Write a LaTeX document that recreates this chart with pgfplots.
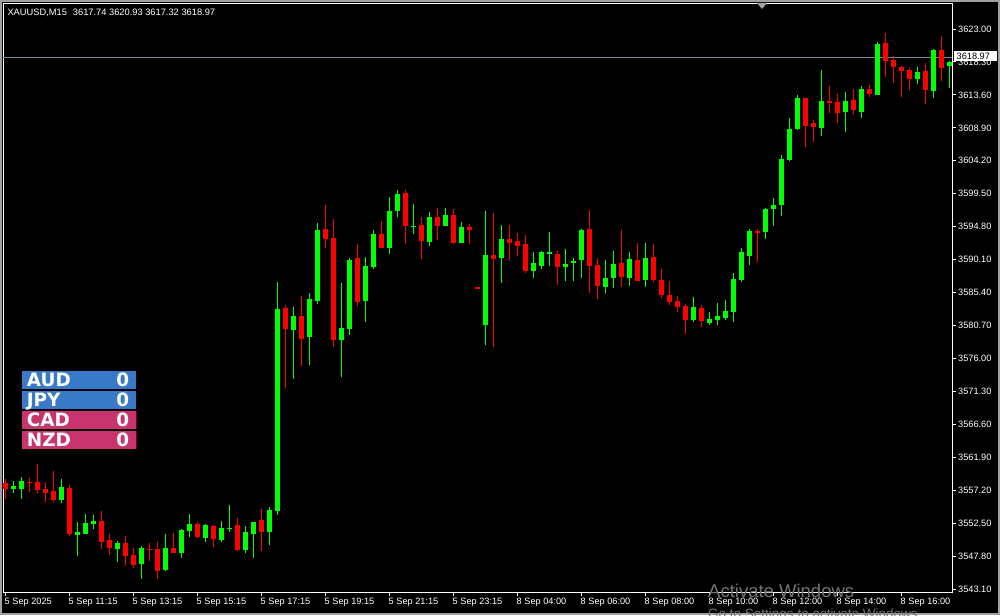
\documentclass[border=0pt]{standalone}
\usepackage{fontspec}
\setmainfont{Liberation Sans}
\newfontfamily\djv{DejaVu Sans}
\usepackage{pgfplots}
\usepackage{pgfplotstable}
\pgfplotsset{compat=1.18}
\definecolor{bull}{RGB}{0,255,0}
\definecolor{bear}{RGB}{255,0,0}
\definecolor{bidline}{RGB}{119,136,153}
\definecolor{panelblue}{RGB}{56,121,200}
\definecolor{panelpink}{RGB}{200,52,110}
\definecolor{paneldark}{RGB}{120,0,20}
\definecolor{framegray}{RGB}{160,160,160}
\definecolor{wmark}{RGB}{115,115,115}

\pgfplotstableread{
i O H L C
1 3557.42 3558.52 3556.85 3557.81
2 3557.42 3559.14 3556.00 3558.52
7 3555.81 3558.81 3555.34 3557.67
9 3550.86 3552.67 3547.87 3551.25
10 3551.01 3553.82 3551.01 3552.53
11 3552.43 3553.67 3551.72 3552.82
14 3548.82 3550.01 3547.01 3549.68
17 3546.73 3549.21 3544.59 3549.01
20 3545.87 3550.96 3545.73 3548.97
22 3548.25 3551.68 3547.58 3551.53
23 3551.39 3553.82 3550.54 3552.39
25 3550.39 3552.39 3549.86 3552.25
27 3550.11 3552.82 3549.86 3551.82
28 3551.68 3555.10 3551.29 3551.82
30 3548.68 3552.11 3548.30 3551.25
31 3550.96 3552.67 3547.58 3552.67
33 3551.25 3554.81 3549.44 3554.39
34 3554.29 3586.91 3553.67 3583.06
36 3580.06 3583.35 3573.07 3582.06
38 3579.07 3585.34 3575.07 3584.49
39 3584.20 3595.33 3583.77 3594.33
42 3578.64 3586.77 3573.36 3580.35
43 3580.21 3590.34 3579.35 3590.05
45 3584.20 3590.48 3581.21 3589.19
46 3589.05 3594.33 3588.77 3593.76
48 3591.76 3599.04 3590.91 3597.04
49 3597.04 3600.04 3596.18 3599.47
51 3594.76 3598.04 3593.76 3594.90
53 3592.62 3596.90 3592.05 3596.18
55 3594.90 3597.47 3594.90 3596.47
57 3592.48 3595.47 3592.48 3594.76
60 3580.78 3597.04 3577.93 3590.76
62 3590.34 3595.04 3586.77 3593.05
66 3588.48 3591.19 3587.48 3589.62
67 3589.19 3591.33 3588.77 3591.19
68 3590.91 3594.04 3589.19 3591.19
70 3589.05 3591.62 3587.05 3589.48
71 3589.62 3590.34 3587.05 3589.91
72 3590.05 3594.47 3587.48 3594.33
75 3586.20 3590.05 3585.34 3587.48
76 3587.48 3591.33 3586.06 3589.48
78 3587.48 3591.19 3586.34 3590.19
80 3587.20 3592.48 3586.20 3590.34
86 3581.49 3584.77 3581.21 3583.35
88 3581.06 3582.63 3580.78 3581.63
89 3581.49 3583.92 3580.78 3582.06
90 3581.78 3584.34 3581.49 3582.77
91 3582.63 3588.20 3581.21 3587.34
92 3587.20 3591.76 3586.91 3591.19
93 3590.62 3594.47 3589.34 3594.19
95 3594.04 3597.47 3593.05 3597.33
96 3597.33 3598.89 3594.90 3597.90
97 3597.90 3605.03 3596.33 3604.46
98 3604.32 3610.31 3604.17 3608.74
99 3608.74 3613.59 3608.60 3613.16
102 3608.88 3617.15 3607.74 3612.73
105 3611.16 3614.02 3608.31 3612.73
107 3611.16 3614.87 3610.31 3614.44
109 3613.59 3621.15 3613.59 3620.86
114 3615.87 3617.58 3615.16 3616.87
116 3614.16 3620.15 3613.16 3620.01
118 3617.72 3618.44 3614.59 3618.30
}\bulldata

\pgfplotstableread{
i O H L C
0 3558.28 3558.77 3556.00 3557.42
3 3558.38 3558.99 3557.00 3558.20
4 3558.38 3560.95 3556.77 3557.28
5 3557.38 3558.38 3555.57 3556.85
6 3557.10 3559.95 3555.53 3555.81
8 3557.53 3557.95 3550.72 3551.01
12 3552.82 3554.24 3548.82 3549.86
13 3550.11 3550.96 3548.01 3549.01
15 3549.68 3550.68 3546.44 3547.87
16 3547.97 3549.01 3546.16 3546.54
18 3548.87 3549.68 3547.15 3548.72
19 3548.87 3549.86 3544.59 3545.73
21 3549.01 3551.11 3548.25 3548.25
24 3552.39 3552.67 3550.39 3550.54
26 3552.11 3552.25 3549.15 3550.25
29 3552.25 3553.25 3548.54 3548.68
32 3552.96 3554.53 3548.58 3551.25
35 3583.20 3583.63 3571.79 3580.21
37 3582.06 3584.91 3574.93 3578.78
40 3594.47 3597.90 3591.76 3593.05
41 3593.19 3595.90 3577.64 3578.64
44 3590.34 3592.33 3583.49 3584.06
47 3593.76 3595.61 3591.76 3591.76
50 3599.61 3600.04 3592.33 3594.90
52 3595.04 3596.18 3590.19 3592.76
54 3596.18 3597.47 3592.90 3594.90
56 3596.47 3597.33 3592.33 3592.48
58 3594.76 3595.19 3592.33 3594.33
59 3586.13 3586.13 3585.98 3585.98
61 3590.76 3596.75 3577.64 3590.19
63 3593.05 3595.04 3589.91 3592.48
64 3592.76 3593.90 3590.62 3592.05
65 3592.33 3593.62 3588.20 3588.48
69 3590.91 3591.33 3586.48 3589.05
73 3594.47 3597.18 3585.34 3589.19
74 3589.34 3590.34 3584.49 3586.34
77 3589.62 3594.33 3586.20 3587.63
79 3590.05 3592.48 3587.05 3587.05
81 3590.48 3592.33 3586.91 3587.20
82 3587.20 3588.77 3584.63 3585.06
83 3585.06 3587.05 3583.63 3584.06
84 3584.20 3584.91 3582.63 3583.35
85 3583.49 3583.77 3579.49 3581.49
87 3583.20 3583.63 3580.49 3581.35
94 3594.19 3594.47 3589.76 3593.90
100 3613.16 3613.16 3606.17 3609.17
101 3609.59 3610.02 3606.88 3609.02
103 3612.73 3614.87 3611.02 3612.45
104 3612.59 3613.73 3609.59 3611.02
106 3612.87 3614.44 3610.88 3611.45
108 3614.44 3615.01 3613.30 3613.73
110 3621.01 3622.43 3616.16 3618.44
111 3618.58 3619.15 3615.30 3617.58
112 3617.58 3617.72 3613.30 3617.01
113 3617.15 3617.44 3614.30 3615.87
115 3617.01 3618.15 3612.30 3614.30
117 3620.01 3622.00 3615.58 3617.44
}\beardata

\begin{document}
\begin{tikzpicture}[x=1pt,y=1pt]
\useasboundingbox (0,0) rectangle (1000,615);
\fill[black] (0,0) rectangle (1000,615);
\begin{axis}[
  at={(3pt,23pt)}, anchor=south west,
  scale only axis, width=949pt, height=588pt,
  xmin=-0.3125, xmax=118.3125, ymin=3542.69, ymax=3626.57,
  axis line style={white, line width=1pt},
  tick style={white, line width=1pt},
  tick align=outside, major tick length=4pt,
  xtick pos=left, ytick pos=right, yticklabel pos=right,
  xtick={0,8,16,24,32,40,48,56,64,72,80,88,96,104,112},
  xticklabels={5 Sep 2025,5 Sep 11:15,5 Sep 13:15,5 Sep 15:15,5 Sep 17:15,5 Sep 19:15,5 Sep 21:15,5 Sep 23:15,8 Sep 04:00,8 Sep 06:00,8 Sep 08:00,8 Sep 10:00,8 Sep 12:00,8 Sep 14:00,8 Sep 16:00},
  ytick={3543.10,3547.80,3552.50,3557.20,3561.90,3566.60,3571.30,3576.00,3580.70,3585.40,3590.10,3594.80,3599.50,3604.20,3608.90,3613.60,3618.30,3623.00},
  yticklabels={3543.10,3547.80,3552.50,3557.20,3561.90,3566.60,3571.30,3576.00,3580.70,3585.40,3590.10,3594.80,3599.50,3604.20,3608.90,3613.60,3618.30,3623.00},
  ticklabel style={font=\fontsize{9.2}{11}\selectfont, text=white, inner sep=0pt},
  yticklabel style={anchor=west, xshift=2pt},
  xticklabel style={anchor=north west, xshift=-1pt, yshift=-2pt},
  no markers,
]
\addplot[bidline, line width=1pt] coordinates {(-0.3125,3618.97) (118.3125,3618.97)};
\addplot[bull, line width=1pt, -, quiver={u=0,v=\thisrow{H}-\thisrow{L}}] table[x=i,y=L]{\bulldata};
\addplot[bear, line width=1pt, -, quiver={u=0,v=\thisrow{H}-\thisrow{L}}] table[x=i,y=L]{\beardata};
\addplot[bull, line width=5pt, -, quiver={u=0,v=\thisrow{C}-\thisrow{O}}] table[x=i,y=O]{\bulldata};
\addplot[bear, line width=5pt, -, quiver={u=0,v=\thisrow{C}-\thisrow{O}}] table[x=i,y=O]{\beardata};
\end{axis}
% title
\node[anchor=base west, inner sep=0pt, text=white, font=\fontsize{9.3}{11}\selectfont] at (7.3,599) {XAUUSD,M15\hspace{6pt}3617.74 3620.93 3617.32 3618.97};
% bid label
\fill[white] (954,553.5) rectangle (997,564);
\node[anchor=west, inner sep=0pt, text=black, font=\fontsize{9.2}{11}\selectfont] at (956.5,558.7) {3618.97};
% currency panel
\fill[panelblue] (22,226) rectangle (136,244);
\fill[panelblue] (22,206) rectangle (136,224);
\fill[panelpink] (22,186) rectangle (136,204);
\fill[panelpink] (22,166) rectangle (136,184);
\fill[paneldark] (135.5,186) rectangle (137,204);
\fill[paneldark] (135.5,166) rectangle (137,184);
\begin{scope}[every node/.style={inner sep=0pt, text=white, font=\djv\bfseries\fontsize{18.4}{20}\selectfont}]
\node[anchor=base west] at (26.7,228.3) {AUD};
\node[anchor=base east] at (129.3,228.3) {0};
\node[anchor=base west] at (26.7,208.3) {JPY};
\node[anchor=base east] at (129.3,208.3) {0};
\node[anchor=base west] at (26.7,188.3) {CAD};
\node[anchor=base east] at (129.3,188.3) {0};
\node[anchor=base west] at (26.7,168.3) {NZD};
\node[anchor=base east] at (129.3,168.3) {0};
\end{scope}
% window frame and marker
\draw[framegray, line width=2pt] (1,1) rectangle (999,614);
\fill[framegray] (757,612) -- (767,612) -- (762,606) -- cycle;
% watermark
\node[anchor=base west, inner sep=0pt, text=wmark, font=\fontsize{18.5}{20}\selectfont] at (708,17) {Activate Windows};
\node[anchor=base west, inner sep=0pt, text=wmark, font=\fontsize{13.5}{15}\selectfont] at (708,-3) {Go to Settings to activate Windows.};
\end{tikzpicture}
\end{document}
